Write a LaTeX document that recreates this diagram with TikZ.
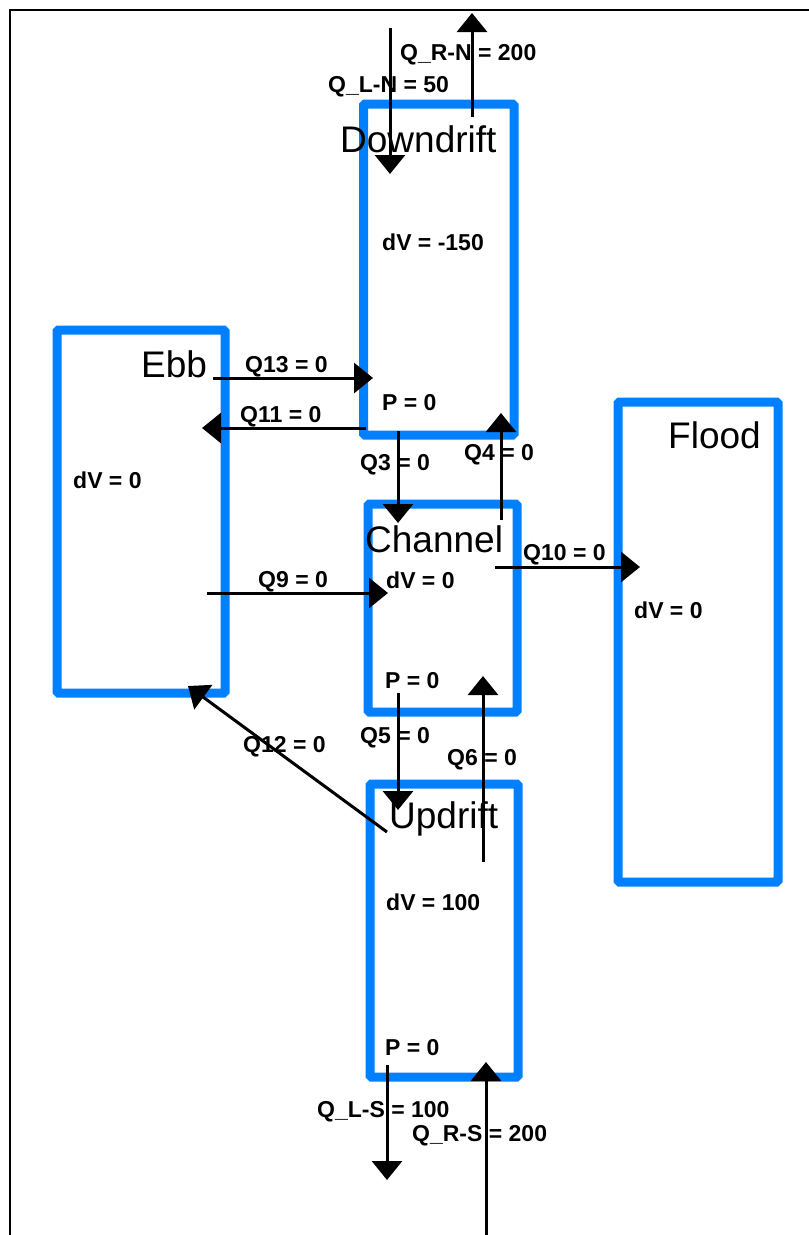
\documentclass[tikz,border=0pt]{standalone}
\usepackage{fontspec}
\setmainfont{Liberation Sans}
\usetikzlibrary{arrows.meta}
\definecolor{cellblue}{RGB}{0,128,255}
\tikzset{cellbox/.style={draw=cellblue,line width=9pt,rounded corners=1.5pt,minimum width=#1,inner sep=0},
    cellname/.style={anchor=base west,inner sep=0,font=\fontsize{37}{37}\selectfont},
    flowlabel/.style={anchor=base west,inner sep=0,font=\fontsize{23}{23}\selectfont\bfseries},
    flow/.style={-{Triangle[length=19pt,width=30pt]},line width=3pt}
}

\begin{document}
\begin{tikzpicture}[x=1pt,y=-1pt]
\useasboundingbox (0,0) rectangle (809,1235);

\draw [line width=2pt] (10,1235) -- (10,10) -- (809,10);

% the five cells
\node (downdrift) [cellbox=150.5pt,minimum height=331pt] at (438.75,269.5) {};
\node (ebb) [cellbox=168pt,minimum height=363pt] at (141,511.5) {};
\node (channel) [cellbox=149pt,minimum height=208pt] at (442.5,608) {};
\node (updrift) [cellbox=148pt,minimum height=293pt] at (444,930.5) {};
\node (flood) [cellbox=160pt,minimum height=480pt] at (698,642) {};

\node (downdrift name) [cellname] at (340,152) {Downdrift};
\node (ebb name) [cellname] at (141,377) {Ebb};
\node (channel name) [cellname] at (365,552) {Channel};
\node (flood name) [cellname] at (668,448) {Flood};
\node (updrift name) [cellname] at (389,828) {Updrift};

\foreach \x/\y/\name/\txt in {
    382/250/dvdown/{dV = -150},
    382/410/pdown/{P = 0},
    73/488/dvebb/{dV = 0},
    386/588/dvchan/{dV = 0},
    385/688/pchan/{P = 0},
    634/618/dvflood/{dV = 0},
    386/910/dvup/{dV = 100},
    385/1055/pup/{P = 0}}
    \node (\name) [flowlabel] at (\x,\y) {\txt};

% flows
\foreach \x/\y/\name/\txt in {
    400/60/qrn/{Q\_R-N = 200},
    328/92/qln/{Q\_L-N = 50},
    245/372/q13/{Q13 = 0},
    240/422/q11/{Q11 = 0},
    360/470/q3/{Q3 = 0},
    464/460/q4/{Q4 = 0},
    258/587/q9/{Q9 = 0},
    523/560/q10/{Q10 = 0},
    243/752/q12/{Q12 = 0},
    360/743/q5/{Q5 = 0},
    447/765/q6/{Q6 = 0},
    317/1117/qls/{Q\_L-S = 100},
    412/1141/qrs/{Q\_R-S = 200}}
    \node (\name) [flowlabel] at (\x,\y) {\txt};

\coordinate (qln from) at (390,28);   \coordinate (qln to) at (390,174);
\coordinate (qrn from) at (472,117);  \coordinate (qrn to) at (472,13);
\coordinate (q13 from) at (213,378);  \coordinate (q13 to) at (373,378);
\coordinate (q11 from) at (366,428);  \coordinate (q11 to) at (202,428);
\coordinate (q3 from) at (398,431);   \coordinate (q3 to) at (398,523);
\coordinate (q4 from) at (501,520);   \coordinate (q4 to) at (501,413);
\coordinate (q9 from) at (207,593);   \coordinate (q9 to) at (388,593);
\coordinate (q10 from) at (495,567);  \coordinate (q10 to) at (640,567);
\coordinate (q12 from) at (387,832);  \coordinate (q12 to) at (188,686);
\coordinate (q5 from) at (398,693);   \coordinate (q5 to) at (398,810);
\coordinate (q6 from) at (483,862);   \coordinate (q6 to) at (483,676);
\coordinate (qls from) at (387,1065); \coordinate (qls to) at (387,1180);
\coordinate (qrs from) at (486,1235); \coordinate (qrs to) at (486,1062);

\foreach \f in {qln,qrn,q13,q11,q3,q4,q9,q10,q12,q5,q6,qls,qrs}
    \draw [flow] (\f\space from) -- (\f\space to);

\end{tikzpicture}
\end{document}
